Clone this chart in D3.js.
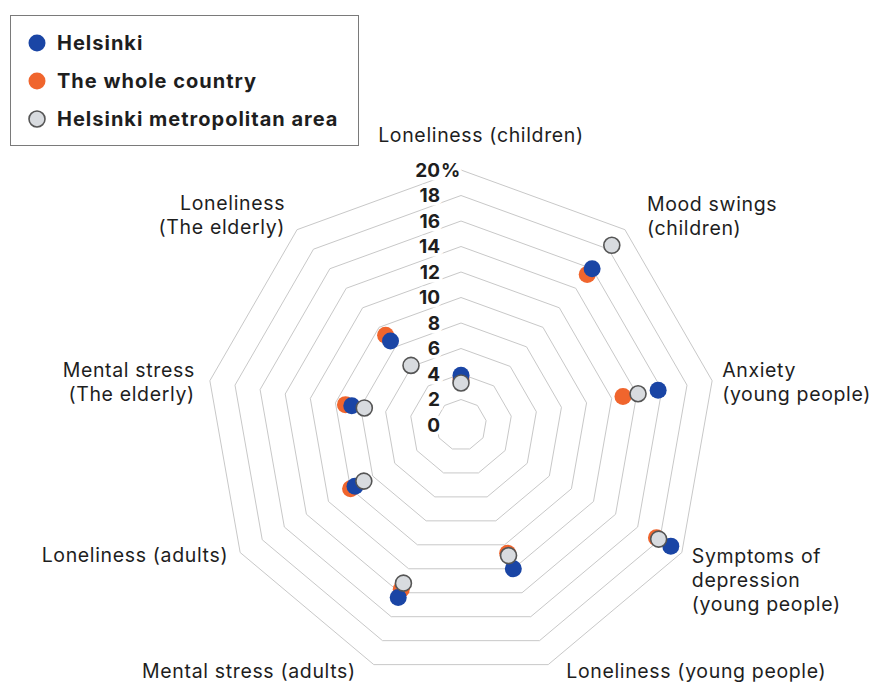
<!DOCTYPE html>
<html><head><meta charset="utf-8">
<script src="https://cdn.jsdelivr.net/npm/d3@7/dist/d3.min.js"></script>
<style>body{margin:0;background:#fff}svg{display:block}</style>
</head><body><svg id="chart" width="873" height="684"></svg>
<script>
// ---- data ----
const categories = [
  "Loneliness (children)",
  "Mood swings\n(children)",
  "Anxiety\n(young people)",
  "Symptoms of\ndepression\n(young people)",
  "Loneliness (young people)",
  "Mental stress (adults)",
  "Loneliness (adults)",
  "Mental stress\n(The elderly)",
  "Loneliness\n(The elderly)"
];
const seriesNames = ["Helsinki", "The whole country", "Helsinki metropolitan area"];
const helsinki     = [3.9, 16.0, 15.7, 19.0, 12.0, 14.4, 9.6, 8.7, 8.6];
const wholeCountry = [3.6, 15.4, 12.9, 17.7, 10.7, 13.7, 10.0, 9.2, 9.2];
const metroArea    = [3.3, 18.4, 14.1, 17.9, 10.9, 13.2, 8.8, 7.7, 6.1];
const tickValues = [0, 2, 4, 6, 8, 10, 12, 14, 16, 18, 20];
const tickLabels = ["0", "2", "4", "6", "8", "10", "12", "14", "16", "18", "20%"];

// ---- layout ----
const W = 873, H = 684;
const cx = 461, cy = 425, R = 255;
const font = "Inter, 'Noto Sans', sans-serif";
const textColor = "#1e1e1e";
const colors = ["#1a45a5", "#f0652d", "#d8dbdf"];
const drawOrder = [1, 0, 2];
const seriesValues = [helsinki, wholeCountry, metroArea];

const svg = d3.select("#chart");
const r = d3.scaleLinear().domain([0, 20]).range([0, R]);
const angle = d3.scaleLinear().domain([0, categories.length]).range([0, 2 * Math.PI]);
const px = (i, v) => cx + r(v) * Math.sin(angle(i));
const py = (i, v) => cy - r(v) * Math.cos(angle(i));

// grid rings
const ring = d3.lineRadial().angle((d, i) => angle(i)).radius(d => r(d)).curve(d3.curveLinearClosed);
const g = svg.append("g").attr("transform", `translate(${cx},${cy})`);
g.selectAll("path.ring").data(tickValues.filter(v => v > 0)).join("path")
  .attr("class", "ring")
  .attr("d", v => ring(categories.map(() => v)))
  .attr("fill", "none").attr("stroke", "#c8c8c8").attr("stroke-width", 1);

// tick labels
const tickX = cx - 21;
const tl = svg.append("g");
tickValues.forEach((v, k) => {
  const lab = tickLabels[k];
  const num = lab.replace("%", "");
  tl.append("text").attr("x", tickX).attr("y", cy - r(v)).attr("dy", "0.36em")
    .attr("text-anchor", "end").attr("font-family", font).attr("font-weight", 700)
    .attr("font-size", 19).attr("fill", textColor)
    .attr("stroke", "#fff").attr("stroke-width", 7).attr("paint-order", "stroke")
    .text(num);
  if (lab.endsWith("%")) {
    tl.append("text").attr("x", tickX + 1).attr("y", cy - r(v)).attr("dy", "0.36em")
      .attr("text-anchor", "start").attr("font-family", font).attr("font-weight", 700)
      .attr("font-size", 19).attr("fill", textColor)
      .attr("stroke", "#fff").attr("stroke-width", 7).attr("paint-order", "stroke")
      .text("%");
  }
});

// points
drawOrder.forEach(s => {
  svg.append("g").selectAll("circle").data(seriesValues[s]).join("circle")
    .attr("cx", (d, i) => px(i, d)).attr("cy", (d, i) => py(i, d))
    .attr("r", s === 2 ? 8 : 8.5)
    .attr("fill", colors[s])
    .attr("stroke", s === 2 ? "#555" : "none").attr("stroke-width", 1.6);
});

// axis labels
const labelPos = [
  {a: "middle", dx: 20, dy: -35},
  {a: "start", dx: 22, dy: -25},
  {a: "start", dx: 10, dy: -11},
  {a: "start", dx: 10, dy: 4},
  {a: "start", dx: 18, dy: 7},
  {a: "end", dx: -18, dy: 7},
  {a: "end", dx: -12, dy: 3},
  {a: "end", dx: -15, dy: -11},
  {a: "end", dx: -12, dy: -26}
];
const lineH = 24;
categories.forEach((c, i) => {
  const p = labelPos[i];
  const x0 = px(i, 20) + p.dx, y0 = py(i, 20) + p.dy;
  const t = svg.append("text").attr("font-family", font).attr("font-size", 19.5)
    .attr("letter-spacing", 0.65)
    .attr("fill", textColor).attr("text-anchor", p.a);
  c.split("\n").forEach((line, j) => {
    t.append("tspan").attr("x", x0).attr("y", y0 + j * lineH).attr("dy", "0.35em").text(line);
  });
});

// legend
const lg = svg.append("g");
lg.append("rect").attr("x", 10.5).attr("y", 15.5).attr("width", 348).attr("height", 130)
  .attr("fill", "#fff").attr("stroke", "#7a7a7a").attr("stroke-width", 1);
const legY = d3.scalePoint().domain(seriesNames).range([43, 119]);
seriesNames.forEach((n, s) => {
  lg.append("circle").attr("cx", 37).attr("cy", legY(n)).attr("r", s === 2 ? 8 : 8.5)
    .attr("fill", colors[s]).attr("stroke", s === 2 ? "#555" : "none").attr("stroke-width", 1.6);
  lg.append("text").attr("x", 57).attr("y", legY(n)).attr("dy", "0.35em")
    .attr("font-family", font).attr("font-weight", 700).attr("font-size", 20)
    .attr("letter-spacing", 1)
    .attr("fill", textColor).text(n);
});
</script></body></html>
